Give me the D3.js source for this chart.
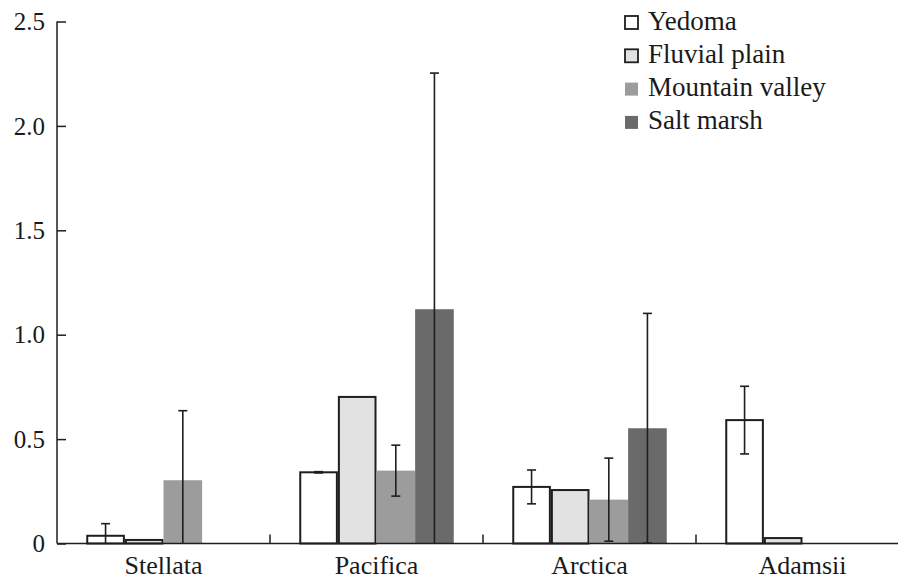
<!DOCTYPE html>
<html><head><meta charset="utf-8">
<script src="https://cdn.jsdelivr.net/npm/d3@7"></script>
<style>
html,body{margin:0;padding:0;background:#fff;}
svg{display:block;}
</style></head>
<body>
<script>
const categories = ["Stellata", "Pacifica", "Arctica", "Adamsii"];
const seriesNames = ["Yedoma", "Fluvial plain", "Mountain valley", "Salt marsh"];
const yedoma = [0.037, 0.341, 0.271, 0.591];
const yedomaErr = [0.058, 0.003, 0.081, 0.162];
const fluvial = [0.017, 0.702, 0.256, 0.026];
const fluvialErr = [0, 0, 0, 0];
const mountain = [0.303, 0.349, 0.210, null];
const mountainErr = [0.333, 0.122, 0.199, null];
const saltMarsh = [null, 1.122, 0.552, null];
const saltMarshErr = [null, 1.131, 0.550, null];
const yTickValues = [0, 0.5, 1.0, 1.5, 2.0, 2.5];
const yTickLabels = ["0", "0.5", "1.0", "1.5", "2.0", "2.5"];

const W = 898, H = 581;
const FONT = "'Liberation Serif', 'DejaVu Serif', serif";
const seriesVals = [yedoma, fluvial, mountain, saltMarsh];
const seriesErrs = [yedomaErr, fluvialErr, mountainErr, saltMarshErr];
const fills = ["#ffffff", "#e2e2e2", "#9b9c9b", "#6a6a6a"];
const strokes = ["#1e1e1e", "#1e1e1e", "none", "none"];
const ink = "#1e1e1e";

const svg = d3.select("body").append("svg").attr("width", W).attr("height", H)
  .attr("font-family", FONT).style("font-family", FONT);

const x0 = d3.scaleBand().domain(categories).range([57, 909]).paddingInner(0).paddingOuter(0);
const x1 = d3.scaleBand().domain(seriesNames).range([29.25, x0.bandwidth() - 29.25]).padding(0);
const y = d3.scaleLinear().domain([0, 2.5]).range([543.5, 21.5]);

const data = [];
categories.forEach((c, i) => {
  seriesNames.forEach((s, j) => {
    const v = seriesVals[j][i];
    if (v != null) data.push({c, s, j, v, e: seriesErrs[j][i]});
  });
});

const g = svg.append("g");
g.selectAll("rect.bar").data(data).enter().append("rect")
  .attr("class", "bar")
  .attr("x", d => x0(d.c) + x1(d.s) + (strokes[d.j] !== "none" ? 1 : 0))
  .attr("width", d => x1.bandwidth() - (strokes[d.j] !== "none" ? 2 : 0))
  .attr("y", d => y(d.v))
  .attr("height", d => y(0) - y(d.v))
  .attr("fill", d => fills[d.j])
  .attr("stroke", d => strokes[d.j])
  .attr("stroke-width", 2);

const capW = 9;
const eb = g.selectAll("g.err").data(data.filter(d => d.e > 0)).enter().append("g").attr("class", "err");
eb.each(function(d) {
  const cx = x0(d.c) + x1(d.s) + x1.bandwidth() / 2;
  const hi = d.v + d.e, lo = Math.max(0, d.v - d.e);
  const sel = d3.select(this);
  sel.append("line").attr("x1", cx).attr("x2", cx).attr("y1", y(hi)).attr("y2", y(lo))
    .attr("stroke", ink).attr("stroke-width", 1.6);
  sel.append("line").attr("x1", cx - capW / 2).attr("x2", cx + capW / 2).attr("y1", y(hi)).attr("y2", y(hi))
    .attr("stroke", ink).attr("stroke-width", 1.6);
  if (lo > 0) {
    sel.append("line").attr("x1", cx - capW / 2).attr("x2", cx + capW / 2).attr("y1", y(lo)).attr("y2", y(lo))
      .attr("stroke", ink).attr("stroke-width", 1.6);
  }
});

const yAxis = d3.axisRight(y).tickValues(yTickValues).tickSize(9).tickFormat(() => "");
const ya = svg.append("g").attr("transform", "translate(57,0)").call(yAxis);
ya.attr("font-family", null);
ya.select(".domain").attr("stroke", ink).attr("stroke-width", 1.5).attr("d", `M0,${y(2.5)}V${y(0)}`);
ya.selectAll(".tick line").attr("stroke", ink).attr("stroke-width", 1.5);
svg.append("g").selectAll("text").data(yTickValues).enter().append("text")
  .attr("x", 45).attr("y", d => y(d)).attr("dy", "0.35em")
  .attr("text-anchor", "end").attr("font-size", 25).attr("fill", "#1a1a1a")
  .style("font-family", FONT)
  .text((d, i) => yTickLabels[i]);

svg.append("line").attr("x1", 57).attr("x2", W).attr("y1", y(0)).attr("y2", y(0))
  .attr("stroke", ink).attr("stroke-width", 1.5);
svg.append("g").selectAll("line").data(categories.slice(1)).enter().append("line")
  .attr("x1", d => x0(d)).attr("x2", d => x0(d))
  .attr("y1", y(0)).attr("y2", y(0) - 9)
  .attr("stroke", ink).attr("stroke-width", 1.5);
svg.append("g").selectAll("text").data(categories).enter().append("text")
  .attr("x", d => x0(d) + x0.bandwidth() / 2).attr("y", 574)
  .attr("text-anchor", "middle").attr("font-size", 26).attr("fill", "#1a1a1a")
  .style("font-family", FONT)
  .text(d => d);

const lg = svg.append("g");
seriesNames.forEach((s, j) => {
  const by = 29.5 + j * 33.3;
  lg.append("rect").attr("x", 625).attr("y", by - 13.5).attr("width", 13).attr("height", 13)
    .attr("fill", fills[j])
    .attr("stroke", strokes[j] === "none" ? "none" : ink).attr("stroke-width", 1.8);
  lg.append("text").attr("x", 648).attr("y", by).attr("font-size", 27).attr("fill", "#1a1a1a")
    .style("font-family", FONT).text(s);
});
</script>
</body></html>
